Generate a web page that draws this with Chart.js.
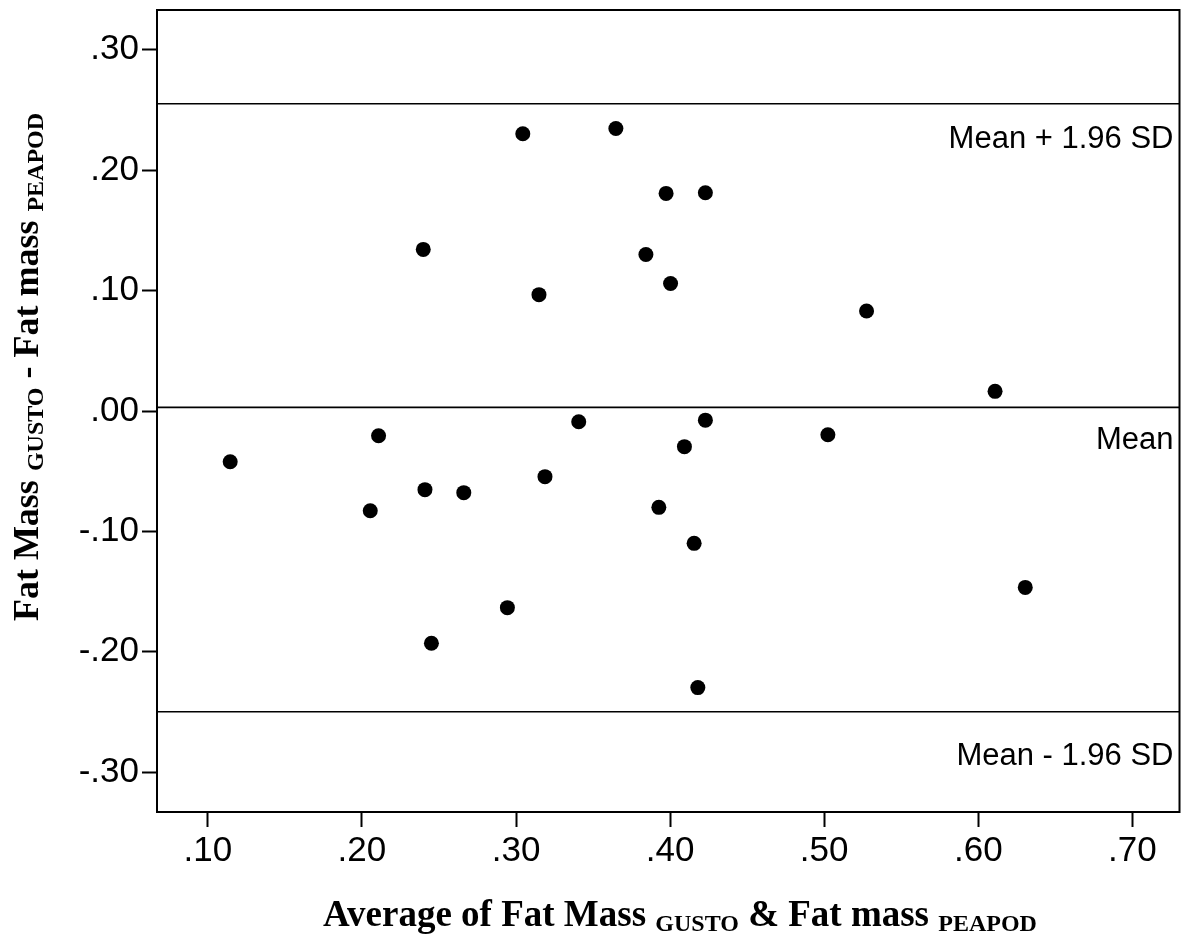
<!doctype html>
<html>
<head>
    <meta charset="utf-8">
    <title>Bland-Altman Fat Mass</title>
    <script src="https://cdn.jsdelivr.net/npm/chart.js@4/dist/chart.umd.min.js"></script>
    <style>
    body { margin: 0; background: #fff; }
    #holder { width: 1187px; height: 936px; }
    </style>
</head>
<body>
    <div id="holder"><canvas id="canvasBA" width="1187" height="936"></canvas></div>
    <script>
        // values
        var avgFatMass = [0.1145, 0.2108, 0.2398, 0.2409, 0.2661, 0.2054, 0.2451, 0.2944, 0.3044,
                          0.3648, 0.3974, 0.4229, 0.3843, 0.4003, 0.3149, 0.3407, 0.4229, 0.4093,
                          0.3188, 0.3927, 0.4156, 0.4180, 0.5275, 0.6109, 0.5024, 0.6305];
        var diffFatMass = [-0.0421, -0.0205, 0.1342, -0.0653, -0.0678, -0.0828, -0.1929, -0.1633, 0.2302,
                           0.2346, 0.1807, 0.1812, 0.1300, 0.1059, 0.0966, -0.0089, -0.0076, -0.0296,
                           -0.0545, -0.0800, -0.1099, -0.2297, 0.0830, 0.0163, -0.0197, -0.1465];
        var refNames = ["Mean + 1.96 SD", "Mean", "Mean - 1.96 SD"];
        var refValues = [0.2551, 0.003, -0.2497];
        var xTicks = [0.1, 0.2, 0.3, 0.4, 0.5, 0.6, 0.7];
        var yTicks = [-0.3, -0.2, -0.1, 0.0, 0.1, 0.2, 0.3];
        var xRange = [0.067, 0.7306];
        var yRange = [-0.333, 0.333];

        Chart.defaults.font.family = "'Liberation Sans', Arial, sans-serif";
        Chart.defaults.color = '#000';

        function fmt(v) {
            return v.toFixed(2).replace('0.', '.');
        }

        var points = [];
        for (var i = 0; i < avgFatMass.length; i++) {
            points.push({x: avgFatMass[i], y: diffFatMass[i]});
        }

        var datasets = [{
            type: 'scatter',
            data: points,
            backgroundColor: '#000',
            borderWidth: 0,
            pointRadius: 7.5
        }];
        for (var j = 0; j < refValues.length; j++) {
            datasets.push({
                type: 'line',
                data: [{x: xRange[0], y: refValues[j]}, {x: xRange[1], y: refValues[j]}],
                borderColor: '#000',
                borderWidth: 1.6,
                pointRadius: 0
            });
        }

        // label offsets under each reference line, in px
        var labelDrop = [44, 42, 53];

        function richText(ctx, parts, cx, cy, angle) {
            var total = 0;
            for (var k = 0; k < parts.length; k++) {
                ctx.font = 'bold ' + parts[k].size + "px 'Liberation Serif', 'Times New Roman', serif";
                parts[k].w = ctx.measureText(parts[k].t).width;
                total += parts[k].w;
            }
            ctx.save();
            ctx.translate(cx, cy);
            ctx.rotate(angle);
            ctx.textBaseline = 'alphabetic';
            ctx.textAlign = 'left';
            ctx.fillStyle = '#000';
            var px = -total / 2;
            for (var k = 0; k < parts.length; k++) {
                ctx.font = 'bold ' + parts[k].size + "px 'Liberation Serif', 'Times New Roman', serif";
                ctx.fillText(parts[k].t, px, parts[k].dy);
                px += parts[k].w;
            }
            ctx.restore();
        }

        var framePlugin = {
            id: 'frame',
            afterDraw: function(chart) {
                var ctx = chart.ctx;
                var a = chart.chartArea;
                var ys = chart.scales.y;
                ctx.save();
                ctx.strokeStyle = '#000';
                ctx.lineWidth = 2;
                ctx.strokeRect(a.left, a.top, a.right - a.left, a.bottom - a.top);

                ctx.font = "31px 'Liberation Sans', Arial, sans-serif";
                ctx.fillStyle = '#000';
                ctx.textAlign = 'right';
                ctx.textBaseline = 'alphabetic';
                for (var j = 0; j < refNames.length; j++) {
                    ctx.fillText(refNames[j], a.right - 6, ys.getPixelForValue(refValues[j]) + labelDrop[j]);
                }
                ctx.restore();

                // axis titles with subscripts
                richText(ctx, [
                    {t: 'Average of Fat Mass ', size: 37, dy: 0},
                    {t: 'GUSTO', size: 24, dy: 5},
                    {t: ' & Fat mass ', size: 37, dy: 0},
                    {t: 'PEAPOD', size: 24, dy: 5}
                ], 680, 926, 0);
                richText(ctx, [
                    {t: 'Fat Mass ', size: 36, dy: 0},
                    {t: 'GUSTO', size: 24, dy: 5},
                    {t: ' - Fat mass ', size: 36, dy: 0},
                    {t: 'PEAPOD', size: 24, dy: 5}
                ], 38, 367, -Math.PI / 2);
            }
        };

        function noPad(scale) {
            scale.paddingTop = 0;
            scale.paddingBottom = 0;
            scale.paddingLeft = 0;
            scale.paddingRight = 0;
        }

        var ctx = document.getElementById('canvasBA').getContext('2d');
        window.myChart = new Chart(ctx, {
            type: 'scatter',
            data: {datasets: datasets},
            plugins: [framePlugin],
            options: {
                responsive: false,
                animation: false,
                layout: {padding: {top: 10, right: 6, left: 0, bottom: 0}},
                plugins: {
                    legend: {display: false},
                    tooltip: {enabled: false}
                },
                scales: {
                    x: {
                        type: 'linear',
                        min: xRange[0],
                        max: xRange[1],
                        afterBuildTicks: function(scale) {
                            scale.ticks = xTicks.map(function(v) { return {value: v}; });
                        },
                        afterFit: function(scale) { scale.height = 124; noPad(scale); },
                        grid: {display: true, drawOnChartArea: false, tickLength: 15, tickWidth: 2, tickColor: '#000'},
                        border: {display: true, color: '#000', width: 2},
                        ticks: {
                            font: {size: 35},
                            color: '#000',
                            padding: 3,
                            maxRotation: 0,
                            callback: function(v) { return fmt(v); }
                        }
                    },
                    y: {
                        type: 'linear',
                        min: yRange[0],
                        max: yRange[1],
                        afterBuildTicks: function(scale) {
                            scale.ticks = yTicks.map(function(v) { return {value: v}; });
                        },
                        afterFit: function(scale) { scale.width = 157; noPad(scale); },
                        grid: {display: true, drawOnChartArea: false, tickLength: 15, tickWidth: 2, tickColor: '#000'},
                        border: {display: true, color: '#000', width: 2},
                        ticks: {
                            font: {size: 35},
                            color: '#000',
                            padding: 3,
                            callback: function(v) { return fmt(v); }
                        }
                    }
                }
            }
        });
    </script>
</body>
</html>
